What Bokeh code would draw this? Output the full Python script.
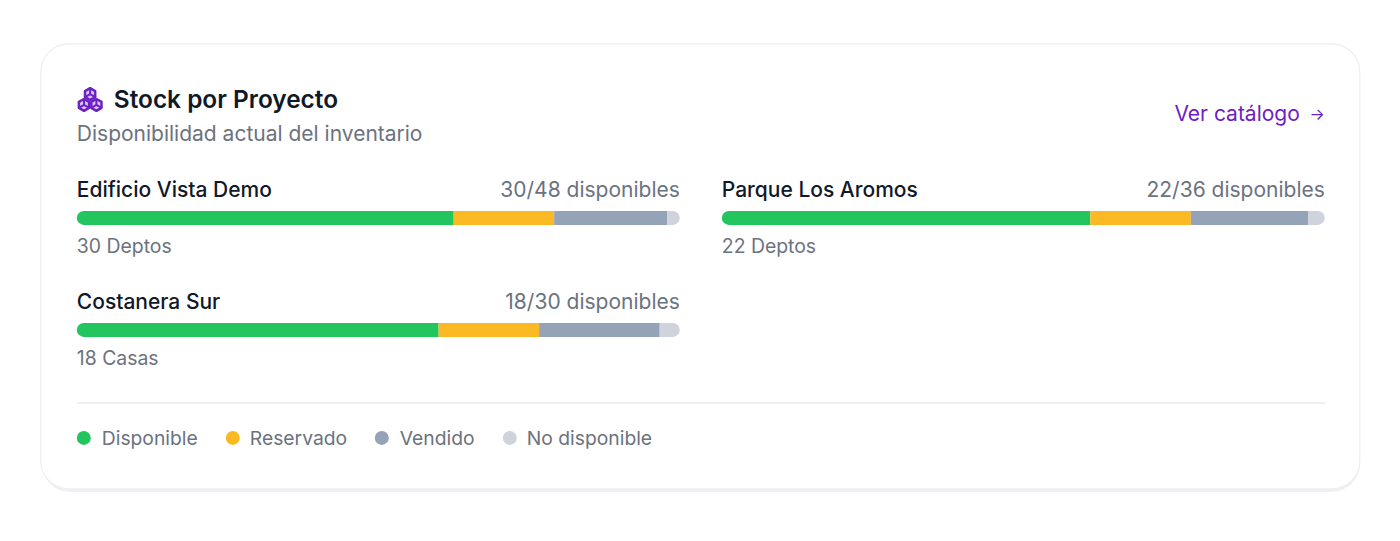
import math
from bokeh.plotting import figure
from bokeh.models import Range1d
from bokeh.core.properties import value
from bokeh.embed import file_html
from bokeh.resources import INLINE

projects = ["Edificio Vista Demo", "Parque Los Aromos", "Costanera Sur"]
unit_names = ["Deptos", "Deptos", "Casas"]
disponible = [30, 22, 18]
reservado = [8, 6, 5]
vendido = [9, 7, 6]
no_disponible = [1, 1, 1]
legend_labels = ["Disponible", "Reservado", "Vendido", "No disponible"]
colors = ["#22c55e", "#fbb924", "#94a3b8", "#cfd4dc"]

W, H = 1384, 525
DX, DY = 0.7, 0.6
p = figure(width=W, height=H, x_range=Range1d(DX, W + DX), y_range=Range1d(H + DY, DY),
           toolbar_location=None, output_backend="svg", min_border=0)
p.axis.visible = False
p.xaxis.visible = False
p.yaxis.visible = False
p.grid.visible = False
p.outline_line_color = None
p.background_fill_color = "#ffffff"
p.border_fill_color = "#ffffff"

INK, MUTED, PURPLE = "#111827", "#6b7280", "#6d21c4"
SEMI, MED, REG = value("Inter SemiBold"), value("Inter Medium"), value("Inter")


def txt(x, y, s, size, color=MUTED, align="left", style="normal", font=REG):
    p.text([x], [y], text=[s], text_font=font, text_font_size=f"{size}px", text_color=color,
           text_align=align, text_baseline="middle", text_font_style=style)


# card with soft shadow
p.quad(left=[42], right=[1360], top=[46], bottom=[492], fill_color="#eef0f3", line_color=None, border_radius=28)
p.quad(left=[41], right=[1360], top=[44], bottom=[489], fill_color="#ffffff", line_color="#eceef1", line_width=1.2, border_radius=28)

# cubes icon
for cx, cy in [(90.3, 94.2), (84.2, 105), (96.6, 105)]:
    r = 5.9
    pts = [(cx + r * math.sin(math.radians(a)), cy - r * math.cos(math.radians(a))) for a in range(0, 360, 60)]
    p.patch([q[0] for q in pts], [q[1] for q in pts], fill_color=PURPLE, fill_alpha=0.25, line_color=PURPLE, line_width=2.5, line_join="round")
    for i in (2, 4, 0):
        p.line([cx, pts[i][0]], [cy, pts[i][1]], line_color=PURPLE, line_width=2)

txt(114, 99, "Stock por Proyecto", 24.4, INK, font=SEMI)
txt(77, 134, "Disponibilidad actual del inventario", 21)
txt(1300, 114, "Ver catálogo", 21, PURPLE, align="right")
txt(1325, 114, "→", 16, PURPLE, align="right")

# project bars, each on its own value scale
x_left = [77, 722, 77]
bar_w = 603
y_top = [190, 190, 302]
for i, name in enumerate(projects):
    segs = [disponible[i], reservado[i], vendido[i], no_disponible[i]]
    total = sum(segs)
    x0 = x_left[i]
    rn = f"bar{i}"
    p.extra_x_ranges[rn] = Range1d((DX - x0) * total / bar_w, (W + DX - x0) * total / bar_w)
    txt(x0, y_top[i], name, 21, INK, font=MED)
    txt(x0 + bar_w, y_top[i], f"{disponible[i]}/{total} disponibles", 21, align="right")
    txt(x0, y_top[i] + 56.5, f"{disponible[i]} {unit_names[i]}", 19.4)
    cum = 0
    for j, v in enumerate(segs):
        radius = (7, 0, 0, 7) if j == 0 else ((0, 7, 7, 0) if j == 3 else 0)
        p.hbar(y=[y_top[i] + 28], left=[cum], right=[cum + v], height=14, fill_color=colors[j],
               line_color=None, x_range_name=rn, border_radius=radius)
        cum += v

# divider and legend
p.line([77, 1325], [403, 403], line_color="#e8eaee", line_width=1.5)
legend_x = [84, 233, 382, 510]
legend_text_x = [102, 250, 400, 527]
for lx, tx, label, c in zip(legend_x, legend_text_x, legend_labels, colors):
    p.scatter([lx], [438], size=14, fill_color=c, line_color=None)
    txt(tx, 438.5, label, 19.3)

open("out.html", "w").write(file_html(p, INLINE))
